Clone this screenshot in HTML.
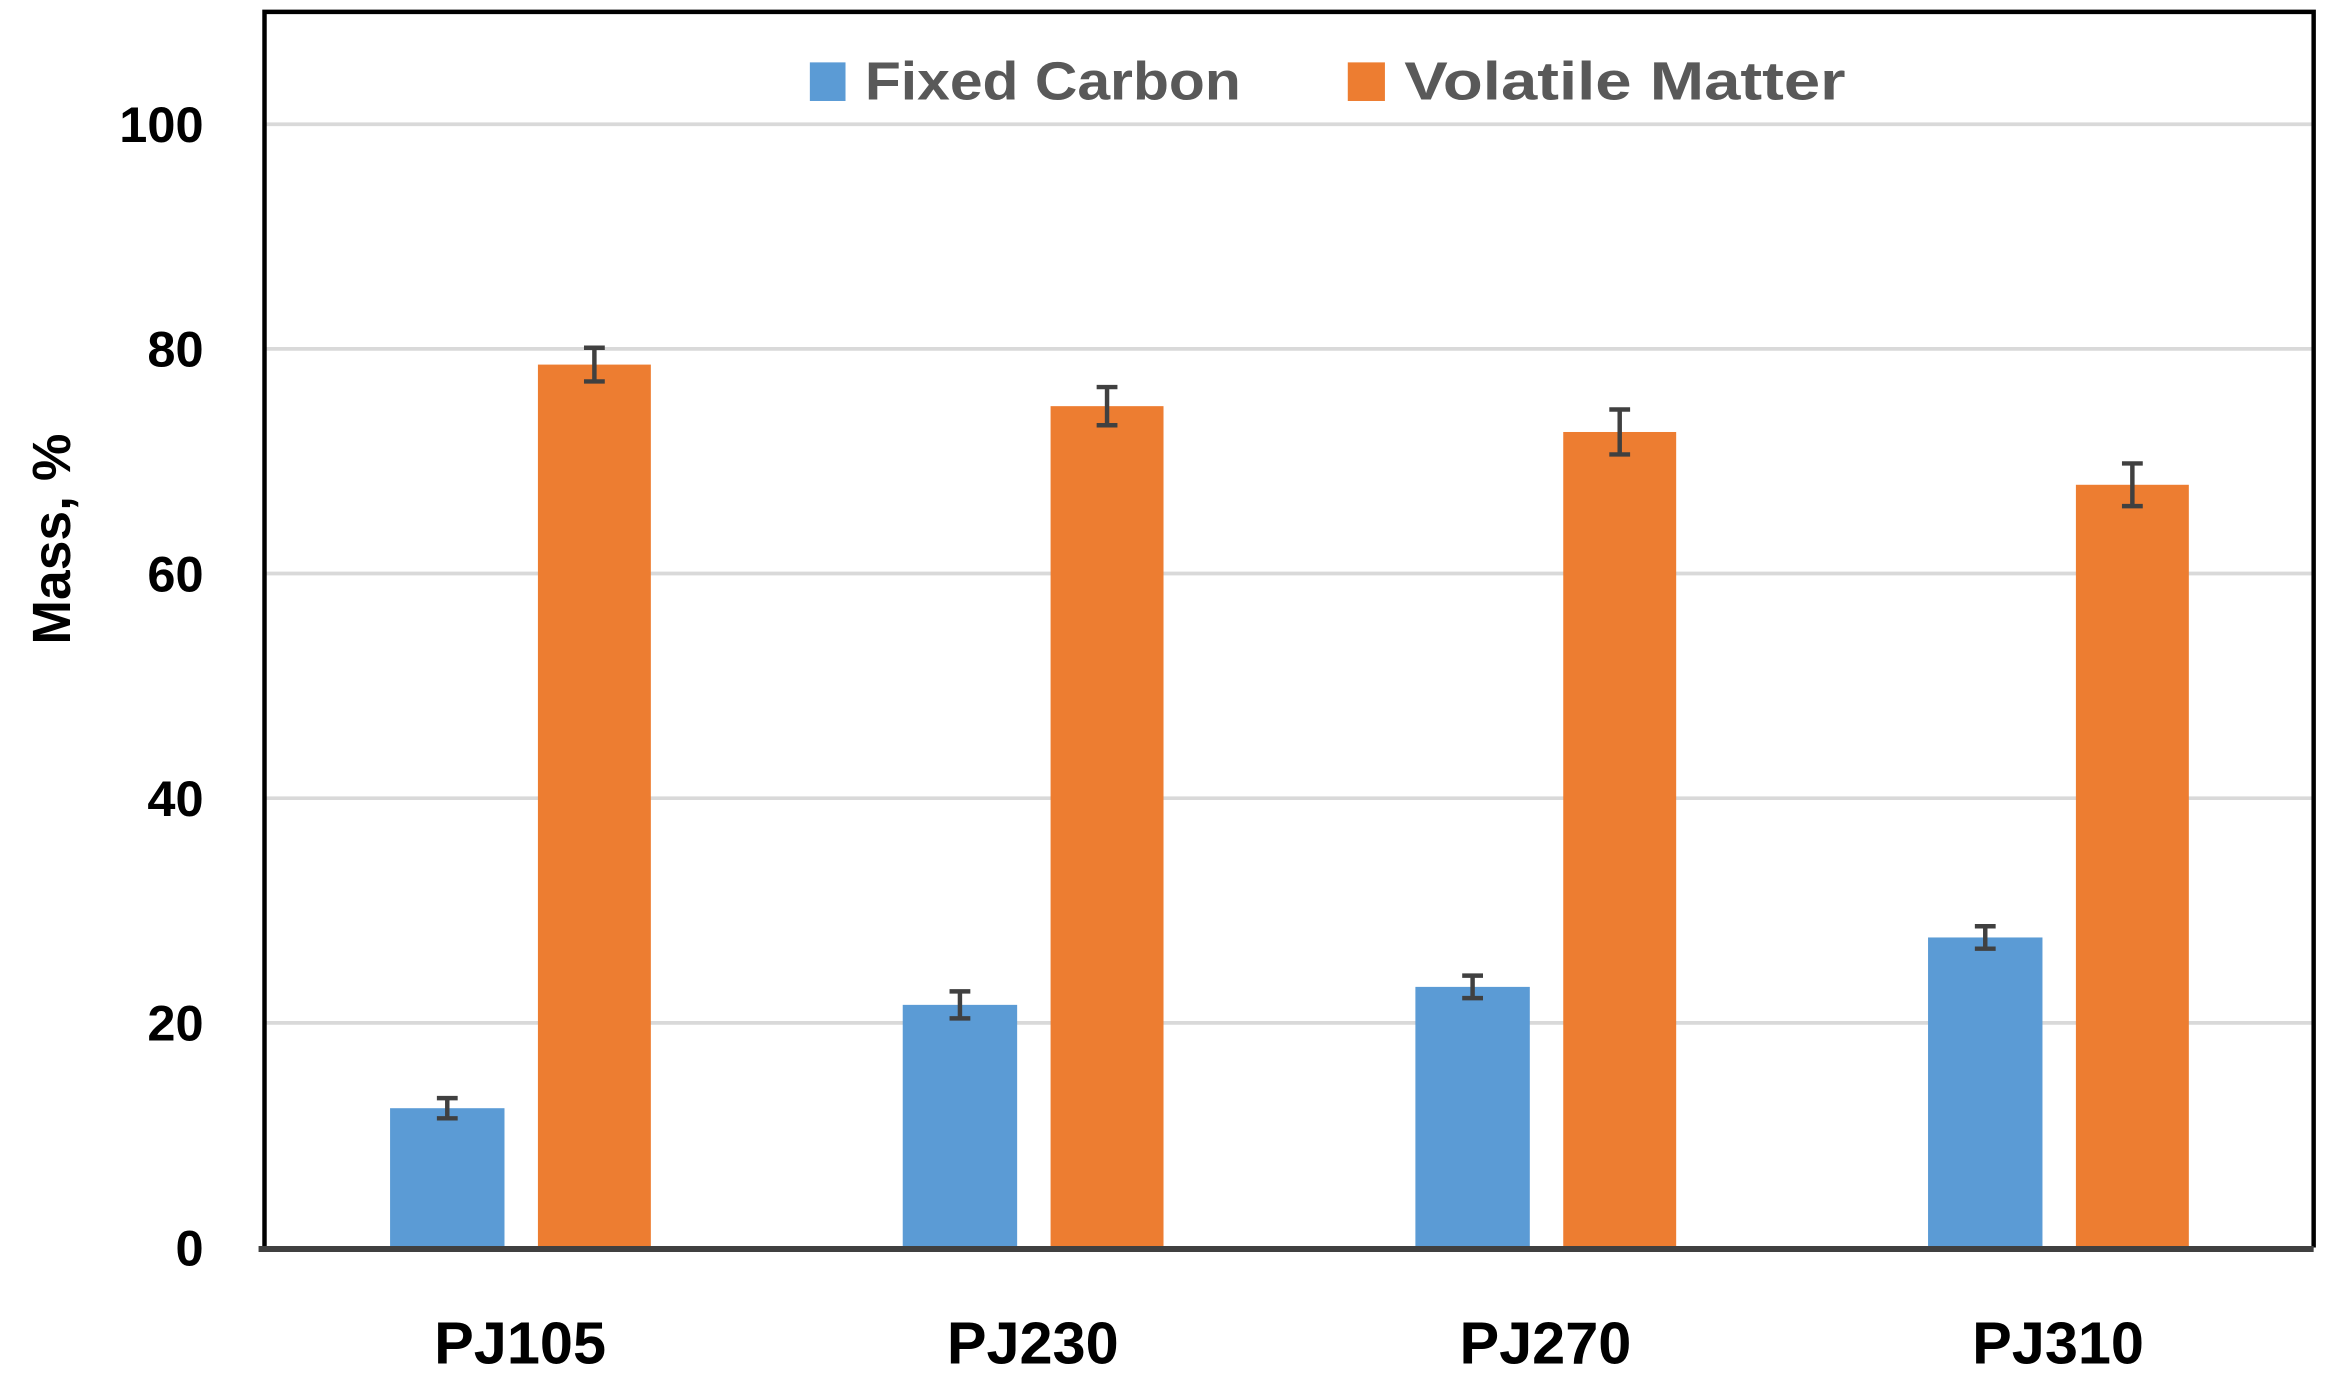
<!DOCTYPE html>
<html><head><meta charset="utf-8"><style>
html,body{margin:0;padding:0;background:#fff;overflow:hidden}
svg{display:block}
text{font-family:"Liberation Sans",sans-serif;font-weight:bold}
</style></head><body>
<svg id="chart" width="2330" height="1396" viewBox="0 0 1568 940" preserveAspectRatio="none" xmlns="http://www.w3.org/2000/svg">
<rect x="0" y="0" width="1568" height="940" fill="#fff"/>
<g id="grid"></g>
<g id="bars"></g>
<g id="axes"></g>
<g id="legend">
  <rect x="545" y="42" width="24" height="26" fill="#5B9BD5"/>
  <text x="582" y="67" font-size="36" fill="#595959" textLength="253" lengthAdjust="spacingAndGlyphs">Fixed Carbon</text>
  <rect x="907" y="42" width="25" height="26" fill="#ED7D31"/>
  <text x="945" y="67" font-size="36" fill="#595959" textLength="297" lengthAdjust="spacingAndGlyphs">Volatile Matter</text>
</g>
<text transform="translate(47,363) rotate(-90)" text-anchor="middle" font-size="36" fill="#000">Mass, %</text>
</svg>
<script>
const categories = ["PJ105","PJ230","PJ270","PJ310"];
const fixedCarbon = [12.4, 21.6, 23.2, 27.6];
const fixedCarbonErr = [0.9, 1.2, 1.0, 1.0];
const volatileMatter = [78.6, 74.9, 72.6, 67.9];
const volatileMatterErr = [1.5, 1.7, 2.0, 1.9];
const yTicks = [0, 20, 40, 60, 80, 100];

const NS = "http://www.w3.org/2000/svg";
const plotL = 178, plotR = 1557, plotT = 8, plotB = 840;
const yMax = 110;
function y(v){ return plotB - v * (plotB - plotT) / yMax; }
const groupW = 345, firstCenter = 350;
function xc(i){ return firstCenter + i * groupW; }
function mk(tag, attrs, parent){ const e=document.createElementNS(NS,tag); for(const k in attrs) e.setAttribute(k,attrs[k]); parent.appendChild(e); return e; }

const grid = document.getElementById('grid');
const axes = document.getElementById('axes');
const bars = document.getElementById('bars');

yTicks.forEach(t=>{
  if(t>0){
    const g = mk('line',{x1:plotL,x2:plotR,y1:y(t),y2:y(t),stroke:'#d9d9d9','stroke-width':2.5},grid);
    
    
  }
  const tl = mk('text',{x:137,y:y(t)+12,'text-anchor':'end','font-size':34,fill:'#000'},axes);
  tl.textContent = t;
  
  
});

function errBar(cx, v, e, parent, name){
  const g = mk('g',{stroke:'#404040','stroke-width':3},parent);
  
  
  mk('line',{x1:cx,x2:cx,y1:y(v+e),y2:y(v-e)},g);
  mk('line',{x1:cx-7,x2:cx+7,y1:y(v+e),y2:y(v+e)},g);
  mk('line',{x1:cx-7,x2:cx+7,y1:y(v-e),y2:y(v-e)},g);
}

categories.forEach((c,i)=>{
  const cx = xc(i);
  const bw = 77;
  const bx = cx - 49 - bw/2;
  const b1 = mk('rect',{x:bx,y:y(fixedCarbon[i]),width:bw,height:plotB-y(fixedCarbon[i]),fill:'#5B9BD5'},bars);
  
  
  errBar(bx+bw/2, fixedCarbon[i], fixedCarbonErr[i], bars, 'error-bar-fixed-carbon-'+c.toLowerCase());
  const ox = cx + 50 - 76/2;
  const b2 = mk('rect',{x:ox,y:y(volatileMatter[i]),width:76,height:plotB-y(volatileMatter[i]),fill:'#ED7D31'},bars);
  
  
  errBar(ox+38, volatileMatter[i], volatileMatterErr[i], bars, 'error-bar-volatile-matter-'+c.toLowerCase());
  const xl = mk('text',{x:cx,y:918,'text-anchor':'middle','font-size':40,fill:'#000'},axes);
  xl.textContent = c;
  
  
});

const frame = mk('path',{d:`M${plotL} ${plotB} V${plotT} H${plotR} V${plotB}`,fill:'none',stroke:'#000','stroke-width':3},axes);


const xaxis = mk('line',{x1:plotL-4,x2:plotR,y1:plotB+1,y2:plotB+1,stroke:'#404040','stroke-width':4},axes);


</script>
</body></html>
